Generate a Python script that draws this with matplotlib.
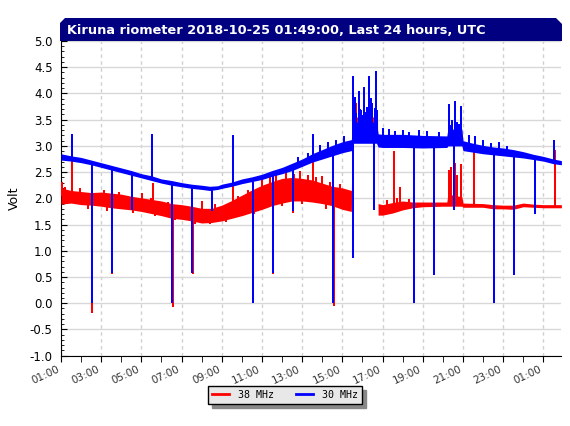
import numpy as np
import matplotlib
matplotlib.use('Agg')
import matplotlib.pyplot as plt
from matplotlib.patches import Polygon
from matplotlib.lines import Line2D
from matplotlib.ticker import MultipleLocator

# hours after 01:00 UTC (2018-10-24)
# 30 MHz noise band: time, lower edge, upper edge
t30 = [0.0, 0.5, 1.0, 1.5, 2.0, 2.5, 3.0, 3.5, 4.0, 4.5, 5.0, 5.5, 6.0, 6.5, 7.0, 7.4, 7.8,
       8.0, 8.5, 9.0, 9.5, 10.0, 10.5, 11.0, 11.5, 12.0, 12.5, 13.0, 13.5, 14.0, 14.45,
       14.5, 15.7, 15.78, 16.0, 17.0, 18.0, 19.2, 19.25, 19.95, 20.0, 20.5, 21.0, 21.5,
       22.0, 22.5, 23.0, 23.5, 24.0, 24.5, 24.9]
lo30 = [2.73, 2.71, 2.68, 2.64, 2.59, 2.54, 2.49, 2.44, 2.39, 2.34, 2.29, 2.25, 2.22, 2.19, 2.17, 2.15, 2.17,
        2.19, 2.23, 2.28, 2.32, 2.36, 2.42, 2.47, 2.53, 2.61, 2.69, 2.75, 2.81, 2.87, 2.91,
        3.05, 3.05, 2.98, 2.97, 2.97, 2.96, 2.97, 3.00, 3.00, 2.91, 2.88, 2.85, 2.83,
        2.81, 2.79, 2.77, 2.74, 2.71, 2.66, 2.64]
hi30 = [2.85, 2.81, 2.78, 2.73, 2.68, 2.63, 2.58, 2.53, 2.47, 2.43, 2.37, 2.34, 2.30, 2.27, 2.25, 2.23, 2.24,
        2.27, 2.31, 2.37, 2.41, 2.46, 2.53, 2.59, 2.67, 2.75, 2.85, 2.93, 3.01, 3.08, 3.12,
        3.45, 3.45, 3.23, 3.22, 3.22, 3.20, 3.19, 3.32, 3.32, 3.10, 3.05, 3.01, 2.98,
        2.96, 2.93, 2.89, 2.84, 2.80, 2.75, 2.72]

# 38 MHz noise band
t38 = [0.0, 0.5, 1.0, 1.5, 2.0, 2.5, 3.0, 3.5, 4.0, 4.5, 5.0, 5.5, 6.0, 6.5, 7.0, 7.5,
       8.0, 8.5, 9.0, 9.5, 10.0, 10.5, 11.0, 11.5, 12.0, 12.5, 13.0, 13.5, 14.0, 14.45,
       14.5, 15.75, 15.78, 16.0, 16.5, 17.0, 17.5, 18.0, 19.0, 19.2, 19.25, 19.95, 20.0,
       21.0, 21.5, 22.0, 22.5, 23.0, 23.5, 24.0, 24.9]
lo38 = [1.89, 1.91, 1.88, 1.87, 1.85, 1.82, 1.80, 1.78, 1.75, 1.71, 1.67, 1.62, 1.60, 1.57, 1.53, 1.54,
        1.57, 1.62, 1.67, 1.73, 1.79, 1.86, 1.91, 1.95, 1.95, 1.93, 1.90, 1.86, 1.79, 1.75,
        3.10, 3.10, 1.68, 1.68, 1.72, 1.78, 1.82, 1.84, 1.85, 1.85, 1.85, 1.85, 1.83,
        1.83, 1.80, 1.80, 1.79, 1.84, 1.83, 1.82, 1.82]
hi38 = [2.20, 2.15, 2.13, 2.11, 2.12, 2.10, 2.08, 2.04, 2.01, 1.98, 1.95, 1.90, 1.88, 1.85, 1.81, 1.81,
        1.87, 1.96, 2.06, 2.16, 2.25, 2.32, 2.38, 2.40, 2.38, 2.35, 2.29, 2.23, 2.20, 2.15,
        3.55, 3.55, 1.90, 1.88, 1.92, 1.95, 1.93, 1.93, 1.93, 1.93, 2.08, 2.03, 1.91,
        1.90, 1.88, 1.87, 1.87, 1.91, 1.89, 1.88, 1.88]

# single spikes (time, value)
spk30_t = [0.53, 1.53, 2.54, 3.55, 4.54, 5.54, 6.53, 7.53, 8.54, 9.53, 10.55, 11.54, 12.55,
           13.55, 14.55, 15.55, 17.55, 18.56, 19.54, 21.56, 22.55, 23.57, 24.55,
           14.51, 14.63, 14.81, 14.91, 15.09, 15.21, 15.34, 15.42, 15.50, 15.69, 15.74,
           14.7, 14.87, 15.0, 15.15, 15.28, 15.62,
           19.32, 19.45, 19.63, 19.72, 19.88, 19.38, 19.8,
           16.0, 16.3, 16.6, 17.0, 17.3, 17.8, 18.2, 18.8, 20.3, 20.6, 21.0, 21.4, 21.8, 22.2,
           12.9, 13.3, 13.7, 14.1, 11.8, 12.3]
spk30_v = [3.22, 0.0, 0.58, 1.77, 3.22, 0.0, 0.58, 1.75, 3.20, 0.0, 0.58, 1.75, 3.23,
           0.0, 0.86, 1.77, 0.0, 0.54, 1.77, 0.0, 0.53, 1.70, 3.12,
           4.33, 3.94, 4.05, 3.68, 4.12, 3.75, 4.33, 3.91, 3.81, 4.43, 3.68,
           3.62, 3.70, 3.58, 3.65, 3.60, 3.72,
           3.80, 3.50, 3.86, 3.45, 3.76, 3.40, 3.42,
           3.35, 3.33, 3.28, 3.30, 3.27, 3.30, 3.28, 3.26, 3.20, 3.18, 3.12, 3.05, 3.07, 3.00,
           3.02, 3.08, 3.12, 3.18, 2.78, 2.86]

spk38_t = [0.53, 1.55, 2.56, 3.56, 4.56, 5.55, 6.55, 7.55, 8.56, 9.55, 10.56, 11.55, 12.56,
           13.56, 16.56, 17.57, 18.57, 20.56, 22.56, 24.58,
           14.68, 14.95, 15.1, 16.85,
           10.4, 11.2, 11.9, 12.3, 13.0, 9.98, 10.7, 11.6, 12.7, 13.4, 13.9,
           0.05, 0.2, 0.55, 0.95, 2.16, 2.9, 4.05, 4.48, 5.3, 7.0, 7.66, 8.8, 9.3,
           1.36, 2.27, 4.7, 5.67, 6.67, 7.4, 8.2, 9.6, 11.0, 12.0, 13.2,
           19.3, 19.42, 19.62, 19.7, 19.9, 16.2, 16.7, 17.3]
spk38_v = [3.05, -0.18, 0.55, 1.72, 2.30, -0.08, 0.55, 1.65, 2.98, 0.0, 0.55, 1.72, 2.70,
           -0.05, 2.90, 0.0, 0.55, 2.89, 1.53, 2.93,
           3.82, 3.62, 3.55, 2.22,
           2.42, 2.50, 2.52, 2.45, 2.42, 2.41, 2.45, 2.46, 2.40, 2.32, 2.28,
           2.31, 2.22, 2.35, 2.19, 2.15, 2.12, 2.10, 2.00, 1.93, 1.95, 1.90, 2.05, 2.16,
           1.80, 1.76, 1.66, 1.58, 1.52, 1.52, 1.55, 1.70, 1.85, 1.90, 1.80,
           2.54, 2.60, 2.67, 2.45, 2.66, 1.97, 2.00, 1.98]

xt_labels = ['01:00', '03:00', '05:00', '07:00', '09:00', '11:00', '13:00',
             '15:00', '17:00', '19:00', '21:00', '23:00', '01:00']

red = '#ff0000'
blue = '#0000ff'

fig = plt.figure(figsize=(5.7, 4.26), dpi=100)
ax = fig.add_axes([61 / 570, 1 - 355.7 / 426, 500 / 570, 314.7 / 426])

# 38 MHz first, 30 MHz on top
ax.fill_between(t38, lo38, hi38, color=red, lw=0, zorder=3)
c38 = np.interp(spk38_t, t38, (np.array(lo38) + np.array(hi38)) / 2)
ax.vlines(spk38_t, c38, spk38_v, color=red, lw=1.1, zorder=3, antialiased=False)

ax.fill_between(t30, lo30, hi30, color=blue, lw=0, zorder=4)
c30 = np.interp(spk30_t, t30, (np.array(lo30) + np.array(hi30)) / 2)
ax.vlines(spk30_t, c30, spk30_v, color=blue, lw=1.1, zorder=4, antialiased=False)

ax.set_xlim(0, 24.88)
ax.set_ylim(-1.0, 5.0)
ax.set_xticks(np.arange(0, 25, 2))
ax.set_xticklabels(xt_labels, rotation=25, ha='right', fontsize=7.5, color='#333333')
ax.xaxis.set_minor_locator(MultipleLocator(1))
ax.yaxis.set_major_locator(MultipleLocator(0.5))
ax.yaxis.set_minor_locator(MultipleLocator(0.1))
ax.yaxis.set_major_formatter(matplotlib.ticker.FormatStrFormatter('%.1f'))
ax.tick_params(axis='y', which='major', direction='in', length=4, labelsize=8.5, pad=6)
ax.tick_params(axis='y', which='minor', direction='in', length=2.5)
ax.tick_params(axis='x', which='both', direction='out', length=4, pad=2)

ax.spines['top'].set_visible(False)
ax.spines['right'].set_visible(False)
ax.grid(axis='y', which='major', color='#d8d8d8', lw=1.0, ls='-', zorder=0)
ax.grid(axis='x', which='major', color='#d0d0d0', lw=1.0, ls=(0, (2.5, 2.5)), zorder=0)
ax.set_axisbelow(True)
ax.set_ylabel('Volt', fontsize=9, labelpad=6)

# title bar with cut corners
W, H = 570.0, 426.0
bar = [(60, 41), (60, 23), (65, 18), (556, 18), (562, 24), (562, 41)]
fig.patches.append(Polygon([(x / W, 1 - y / H) for x, y in bar], closed=True,
                           transform=fig.transFigure, facecolor='#000080', edgecolor='none'))
fig.text(67 / W, 1 - 30 / H, 'Kiruna riometer 2018-10-25 01:49:00, Last 24 hours, UTC',
         color='white', fontsize=9.3, fontweight='bold', va='center', ha='left')

handles = [Line2D([], [], color=red, lw=2), Line2D([], [], color=blue, lw=2)]
leg = fig.legend(handles, ['38 MHz', '30 MHz'], loc='center', ncol=2,
                 bbox_to_anchor=(285 / W, 1 - 394.5 / H), frameon=True, fancybox=False,
                 shadow={'color': '#888888', 'alpha': 1.0, 'ox': 3, 'oy': -3},
                 prop={'family': 'DejaVu Sans Mono', 'size': 7.2},
                 handlelength=1.7, columnspacing=2.2, borderpad=0.4, handletextpad=0.9)
leg.get_frame().set_facecolor('#e8e8e8')
leg.get_frame().set_edgecolor('black')
leg.get_frame().set_linewidth(1.0)

fig.savefig('out.png', dpi=100)
